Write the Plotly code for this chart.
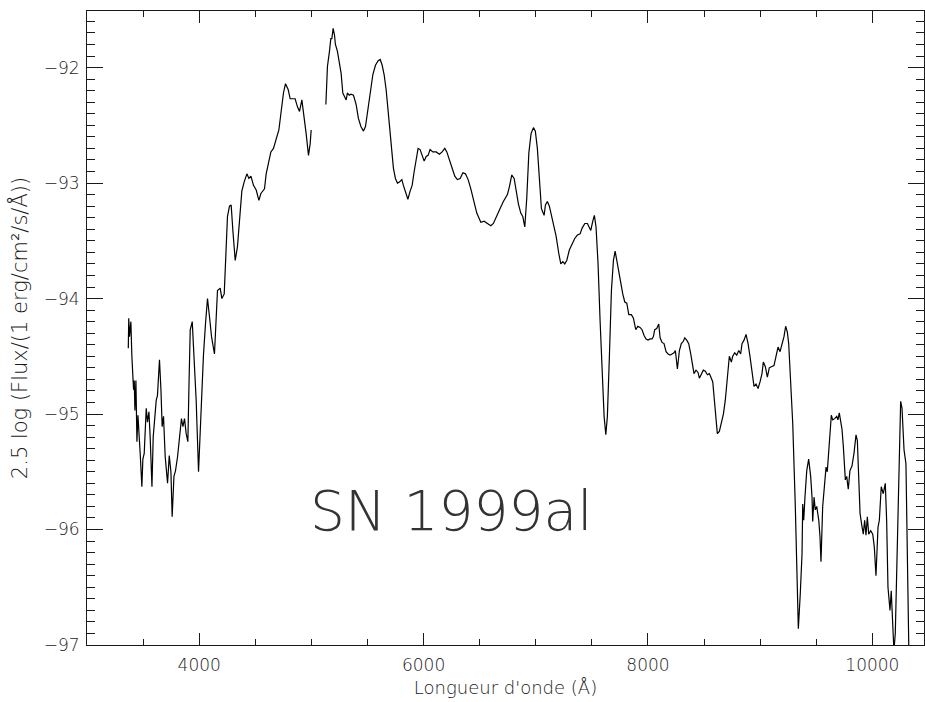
import plotly.graph_objects as go

# Spectrum of SN 1999al (wavelength in Angstrom, 2.5 log flux)
# blue part, 3370 - 5000 A
wave_blue = [3368, 3372, 3379, 3391, 3400, 3409, 3415, 3421, 3427, 3436,
             3445, 3454, 3465, 3474, 3489, 3498, 3510, 3528, 3539, 3552,
             3563, 3579, 3590, 3605, 3617, 3628, 3646, 3659, 3670, 3682,
             3697, 3718, 3733, 3748, 3759, 3775, 3789, 3807, 3824, 3842,
             3855, 3869, 3884, 3899, 3908, 3920, 3938, 3955, 3973, 3994,
             4009, 4024, 4038, 4056, 4074, 4092, 4110, 4136, 4151, 4163,
             4187, 4202, 4223, 4241, 4252, 4270, 4285, 4300, 4321, 4341,
             4359, 4380, 4401, 4425, 4443, 4461, 4484, 4508, 4532, 4550,
             4582, 4597, 4617, 4639, 4662, 4686, 4710, 4728, 4751, 4769,
             4793, 4811, 4835, 4855, 4876, 4894, 4915, 4936, 4953, 4974,
             4989, 4998]
flux_blue = [-94.43, -94.17, -94.33, -94.20, -94.50, -94.68, -94.79, -94.71, -94.97, -94.71,
             -95.24, -95.01, -95.17, -95.34, -95.63, -95.39, -95.34, -94.95, -95.07, -94.98,
             -95.20, -95.63, -95.20, -95.00, -94.88, -94.84, -94.53, -94.79, -95.11, -95.02,
             -95.37, -95.60, -95.36, -95.50, -95.89, -95.54, -95.49, -95.37, -95.20, -95.04,
             -95.11, -95.04, -95.17, -95.24, -94.79, -94.27, -94.20, -94.50, -94.88, -95.50,
             -95.11, -94.71, -94.49, -94.22, -94.00, -94.16, -94.33, -94.48, -94.16, -93.93,
             -93.91, -94.00, -93.96, -93.55, -93.29, -93.20, -93.19, -93.41, -93.67, -93.55,
             -93.29, -93.07, -92.99, -92.92, -92.96, -92.94, -93.02, -93.06, -93.15, -93.09,
             -93.05, -92.92, -92.83, -92.73, -92.70, -92.61, -92.54, -92.40, -92.22, -92.14,
             -92.19, -92.27, -92.27, -92.27, -92.34, -92.38, -92.28, -92.42, -92.57, -92.76,
             -92.66, -92.54]

# red part, 5130 - 10330 A
wave_red = [5129, 5143, 5161, 5173, 5182, 5194, 5206, 5214, 5232, 5250,
            5265, 5280, 5295, 5310, 5321, 5337, 5352, 5375, 5399, 5419,
            5441, 5464, 5482, 5500, 5524, 5548, 5571, 5595, 5613, 5631,
            5648, 5666, 5687, 5708, 5731, 5749, 5767, 5785, 5806, 5820,
            5838, 5860, 5880, 5898, 5916, 5933, 5951, 5969, 5987, 6005,
            6023, 6040, 6058, 6082, 6112, 6141, 6165, 6189, 6207, 6230,
            6254, 6278, 6301, 6326, 6350, 6373, 6397, 6421, 6444, 6474,
            6510, 6539, 6569, 6599, 6622, 6653, 6682, 6711, 6747, 6765,
            6786, 6807, 6824, 6845, 6866, 6884, 6902, 6920, 6938, 6958,
            6979, 6996, 7014, 7032, 7050, 7062, 7074, 7086, 7103, 7121,
            7139, 7157, 7181, 7205, 7223, 7241, 7258, 7276, 7299, 7323,
            7347, 7371, 7395, 7413, 7437, 7460, 7478, 7490, 7508, 7522,
            7537, 7555, 7573, 7591, 7609, 7624, 7638, 7656, 7674, 7692,
            7707, 7722, 7740, 7757, 7775, 7793, 7811, 7829, 7852, 7870,
            7891, 7909, 7929, 7947, 7965, 7983, 8001, 8018, 8036, 8048,
            8060, 8078, 8096, 8108, 8125, 8143, 8161, 8179, 8197, 8214,
            8232, 8244, 8262, 8280, 8297, 8315, 8328, 8345, 8363, 8381,
            8399, 8410, 8428, 8446, 8458, 8475, 8493, 8511, 8529, 8547,
            8559, 8577, 8589, 8604, 8618, 8636, 8654, 8672, 8689, 8707,
            8725, 8743, 8755, 8773, 8791, 8809, 8826, 8838, 8856, 8874,
            8892, 8909, 8927, 8945, 8963, 8981, 8999, 9016, 9028, 9046,
            9064, 9081, 9099, 9123, 9141, 9159, 9177, 9195, 9212, 9227,
            9242, 9254, 9272, 9290, 9313, 9331, 9340, 9357, 9373, 9379,
            9388, 9399, 9415, 9432, 9450, 9462, 9468, 9480, 9491, 9504,
            9522, 9533, 9542, 9557, 9575, 9587, 9598, 9616, 9634, 9646,
            9664, 9682, 9693, 9705, 9718, 9729, 9741, 9759, 9771, 9785,
            9800, 9818, 9836, 9854, 9866, 9878, 9890, 9905, 9919, 9931,
            9943, 9955, 9967, 9985, 10003, 10017, 10032, 10050, 10062, 10079,
            10097, 10115, 10127, 10139, 10157, 10168, 10181, 10192, 10204, 10216,
            10234, 10252, 10264, 10282, 10299, 10311, 10329]
flux_red = [-92.32, -91.99, -91.86, -91.75, -91.75, -91.66, -91.72, -91.80, -91.86, -91.98,
            -92.05, -92.22, -92.25, -92.28, -92.22, -92.24, -92.23, -92.24, -92.32, -92.44,
            -92.51, -92.55, -92.51, -92.38, -92.22, -92.06, -91.98, -91.94, -91.93, -91.98,
            -92.06, -92.19, -92.41, -92.64, -92.87, -92.96, -93.00, -92.99, -92.97, -93.02,
            -93.07, -93.14, -93.07, -93.02, -92.90, -92.79, -92.70, -92.71, -92.77, -92.81,
            -92.77, -92.76, -92.71, -92.73, -92.73, -92.75, -92.73, -92.70, -92.73, -92.81,
            -92.87, -92.94, -92.97, -92.96, -92.91, -92.92, -92.97, -93.05, -93.15, -93.26,
            -93.34, -93.33, -93.35, -93.37, -93.35, -93.29, -93.22, -93.16, -93.10, -93.03,
            -92.93, -92.96, -93.06, -93.18, -93.26, -93.29, -93.38, -93.12, -92.74, -92.57,
            -92.52, -92.55, -92.70, -92.94, -93.22, -93.25, -93.28, -93.19, -93.16, -93.20,
            -93.28, -93.33, -93.46, -93.61, -93.70, -93.68, -93.70, -93.67, -93.58, -93.53,
            -93.48, -93.45, -93.44, -93.39, -93.35, -93.35, -93.39, -93.41, -93.33, -93.28,
            -93.38, -93.70, -94.19, -94.65, -95.02, -95.18, -95.02, -94.50, -93.93, -93.67,
            -93.59, -93.67, -93.78, -93.87, -93.96, -94.03, -94.04, -94.14, -94.14, -94.17,
            -94.27, -94.24, -94.25, -94.27, -94.32, -94.35, -94.36, -94.35, -94.35, -94.33,
            -94.27, -94.26, -94.22, -94.34, -94.38, -94.39, -94.46, -94.48, -94.49, -94.48,
            -94.47, -94.45, -94.61, -94.45, -94.39, -94.37, -94.34, -94.36, -94.39, -94.48,
            -94.59, -94.65, -94.62, -94.64, -94.69, -94.65, -94.62, -94.63, -94.66, -94.65,
            -94.68, -94.72, -94.85, -95.02, -95.17, -95.15, -95.08, -95.00, -94.88, -94.68,
            -94.50, -94.55, -94.50, -94.47, -94.49, -94.45, -94.48, -94.39, -94.36, -94.31,
            -94.39, -94.50, -94.65, -94.76, -94.74, -94.78, -94.72, -94.65, -94.55, -94.59,
            -94.68, -94.60, -94.59, -94.58, -94.50, -94.42, -94.46, -94.40, -94.33, -94.24,
            -94.29, -94.39, -94.69, -95.08, -95.80, -96.50, -96.86, -96.56, -96.21, -95.78,
            -95.92, -95.72, -95.49, -95.39, -95.54, -95.72, -95.93, -95.72, -95.83, -95.80,
            -95.92, -96.06, -96.28, -95.80, -95.54, -95.46, -95.50, -95.28, -95.01, -95.05,
            -95.04, -95.02, -95.05, -94.99, -95.09, -95.13, -95.28, -95.57, -95.54, -95.65,
            -95.49, -95.45, -95.34, -95.18, -95.23, -95.49, -95.86, -95.96, -96.04, -95.92,
            -96.05, -95.89, -96.04, -96.01, -96.04, -96.15, -96.40, -95.98, -95.92, -95.63,
            -95.69, -95.60, -95.92, -96.50, -96.70, -96.53, -96.80, -97.05, -96.90, -96.33,
            -95.63, -94.89, -94.95, -95.31, -95.43, -96.21, -97.30]

x_range = [3000, 10460]
y_range = [-97, -91.51]
label = "SN 1999al"

FONT = "DejaVu Sans"
INK = "#1a1a1a"

fig = go.Figure()

# the spectrum has a gap near 5000-5130 A, so draw the two parts separately
for wl, fl in [(wave_blue, flux_blue), (wave_red, flux_red)]:
    fig.add_trace(go.Scatter(
        x=wl, y=fl, mode='lines',
        line=dict(color='black', width=1.2),
        showlegend=False, hoverinfo='skip'
    ))

fig.add_annotation(
    x=6250, y=-95.84, text=label, showarrow=False,
    font=dict(family=FONT, size=55, color='#333333', weight=200),
    xanchor='center', yanchor='middle'
)

axis_common = dict(
    showline=True, linecolor=INK, linewidth=1, mirror='allticks',
    ticks='inside', tickcolor=INK, tickwidth=1,
    showgrid=False, zeroline=False,
    tickfont=dict(family=FONT, size=17, color=INK, weight=200),
)

fig.update_xaxes(
    range=x_range, tickmode='linear', tick0=0, dtick=2000, ticklen=12,
    tickformat='d', ticklabelstandoff=5,
    minor=dict(ticks='inside', dtick=500, ticklen=6, tickcolor=INK, tickwidth=1),
    title=dict(text="Longueur d'onde (Å)", standoff=6,
               font=dict(family=FONT, size=18, color=INK, weight=200)),
    **axis_common
)
fig.update_yaxes(
    range=y_range, tickmode='linear', dtick=1, tick0=0, ticklen=16,
    minor=dict(ticks='inside', dtick=0.1, ticklen=8, tickcolor=INK, tickwidth=1),
    tickformat='d', ticklabelstandoff=3,
    title=dict(text="2.5 log (Flux/(1 erg/cm²/s/Å))", standoff=10,
               font=dict(family=FONT, size=21, color=INK, weight=200)),
    **axis_common
)

fig.update_layout(
    template='none',
    width=925, height=702,
    margin=dict(l=87, r=1, t=11, b=57, autoexpand=False),
    plot_bgcolor='white', paper_bgcolor='white',
    font=dict(family=FONT, color=INK),
)

# drop the default page margin so the figure fills the window exactly
fig.write_html(
    "out.html",
    config={'displayModeBar': False},
    post_script="document.body.style.margin='0';document.body.style.overflow='hidden';"
)
